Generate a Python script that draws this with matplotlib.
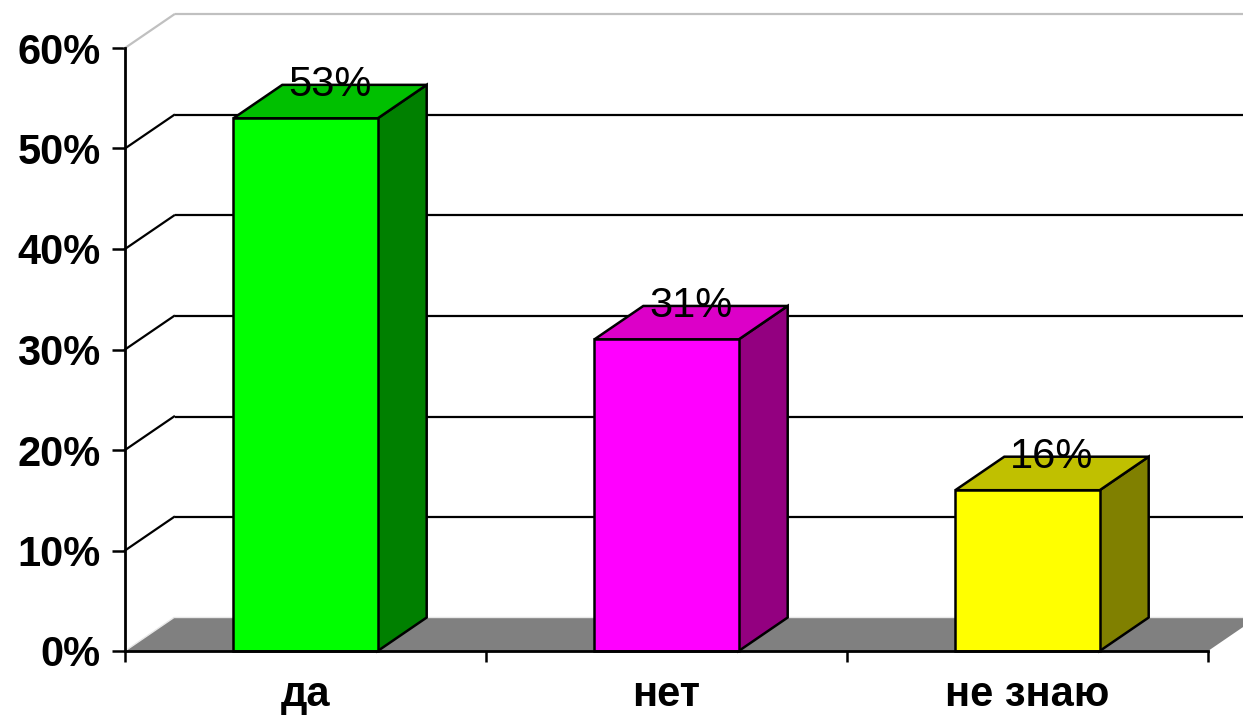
import matplotlib.pyplot as plt
from matplotlib.patches import Polygon

plt.rcParams['font.family'] = ['Liberation Sans', 'DejaVu Sans']

categories = ['да', 'нет', 'не знаю']
values = [53, 31, 16]
value_labels = ['53%', '31%', '16%']
front_colors = ['#00FF00', '#FF00FF', '#FFFF00']
top_colors = ['#00C000', '#DC00C8', '#C0C000']
side_colors = ['#008000', '#930080', '#808000']
yticks = [0, 10, 20, 30, 40, 50, 60]
ytick_labels = ['0%', '10%', '20%', '30%', '40%', '50%', '60%']

# 3d depth offset (category units, percent units)
DX = 49 / 361
DY = 33.5 / 10.05
W = 0.4

fig = plt.figure(figsize=(12.43, 7.16), dpi=100)
ax = fig.add_axes([125 / 1243, 65 / 716, 1083 / 1243, 603 / 716])
ax.set_xlim(0, 3)
ax.set_ylim(0, 60)
n = len(categories)

# floor
floor = Polygon([(0, 0), (DX, DY), (n + DX, DY), (n, 0)], closed=True,
                facecolor='#808080', edgecolor='none', zorder=1, clip_on=False)
ax.add_patch(floor)
ax.plot([0, DX, n + DX], [0, DY, DY], color='#E8E8E8', lw=1, zorder=1.5, clip_on=False)

# walls gridlines
for v in yticks[1:]:
    c = '#C0C0C0' if v == yticks[-1] else 'black'
    ax.plot([0, DX], [v, v + DY], color=c, lw=1.6, zorder=2, clip_on=False)
    ax.plot([DX + 0.005, n + DX], [v + DY, v + DY], color=c, lw=1.6, zorder=2, clip_on=False)

# bars
for i, v in enumerate(values):
    c = i + 0.5
    l, r = c - W / 2, c + W / 2
    side = Polygon([(r, 0), (r + DX, DY), (r + DX, v + DY), (r, v)], closed=True,
                   facecolor=side_colors[i], edgecolor='black', lw=1.8, zorder=3, clip_on=False)
    top = Polygon([(l, v), (l + DX, v + DY), (r + DX, v + DY), (r, v)], closed=True,
                  facecolor=top_colors[i], edgecolor='black', lw=1.8, zorder=3, clip_on=False)
    front = Polygon([(l, 0), (l, v), (r, v), (r, 0)], closed=True,
                    facecolor=front_colors[i], edgecolor='black', lw=1.8, zorder=4, clip_on=False)
    ax.add_patch(side)
    ax.add_patch(top)
    ax.add_patch(front)
    ax.text(c + DX / 2, v + DY, value_labels[i], ha='center', va='center',
            fontsize=30, zorder=10)

for s in ['top', 'right']:
    ax.spines[s].set_visible(False)
for s in ['left', 'bottom']:
    ax.spines[s].set_linewidth(2)
    ax.spines[s].set_zorder(5)

ax.set_yticks(yticks)
ax.set_yticklabels(ytick_labels, fontsize=30, fontweight='bold')
ax.tick_params(axis='y', direction='out', length=9.5, width=1.8, pad=8)

ax.set_xticks(range(n + 1))
ax.set_xticklabels([])
ax.set_xticks([i + 0.5 for i in range(n)], minor=True)
ax.set_xticklabels(categories, minor=True, fontsize=30, fontweight='bold')
ax.tick_params(axis='x', which='major', direction='out', length=8, width=1.8)
ax.tick_params(axis='x', which='minor', length=0, pad=17)

fig.savefig('out.png', dpi=100)
